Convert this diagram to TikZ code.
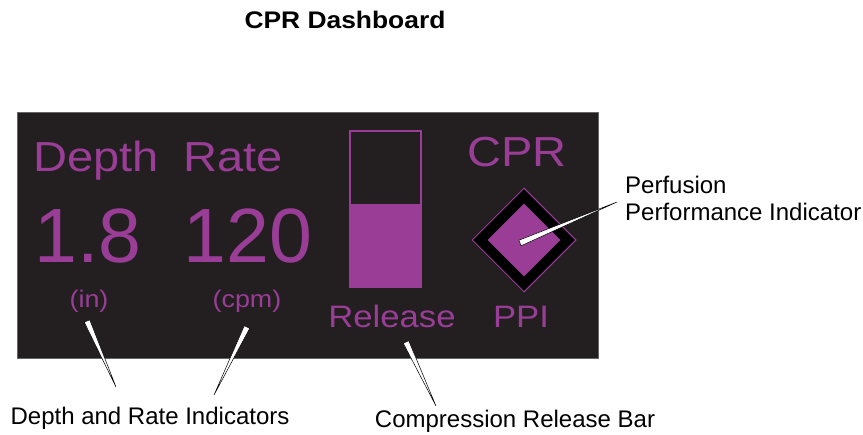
\documentclass[tikz,border=0pt]{standalone}
\usepackage{fontspec}
\setmainfont{Liberation Sans}
\newfontfamily\panelfont[FakeStretch=1.12]{Liberation Sans}
\newfontfamily\titlefont[FakeStretch=1.1]{Liberation Sans}
\usetikzlibrary{calc,shapes.geometric}
\definecolor{panelbg}{HTML}{231F20}
\definecolor{cprpurple}{HTML}{993D97}

\begin{document}
\begin{tikzpicture}[x=1pt, y=-1pt,
  lbl/.style={text=cprpurple, inner sep=0pt, anchor=base},
  big/.style={lbl, font=\panelfont\fontsize{42}{42}\selectfont},
  num/.style={lbl, font=\fontsize{77}{77}\selectfont},
  small/.style={lbl, font=\panelfont\fontsize{31}{31}\selectfont},
  unit/.style={lbl, font=\panelfont\fontsize{24}{24}\selectfont},
  caption/.style={font=\fontsize{24}{27}\selectfont, inner sep=0pt, anchor=base},
  wedge/.style={fill=white, draw=black, line width=0.5pt, line join=miter}
]
\useasboundingbox (0,0) rectangle (863,435);

% Title
\node[font=\titlefont\bfseries\fontsize{24}{24}\selectfont, inner sep=0pt, anchor=base] (title) at (345,29) {CPR Dashboard};

% Draw dark panel
\node[draw=black!60, line width=0.6pt, fill=panelbg, minimum width=581, minimum height=246, inner sep=0pt] (panel) at (307.5,235) {};

% Depth and rate readouts
\node[big] (depth) at (96,172) {Depth};
\node[big] (rate) at (233,172) {Rate};
\node[num] (depthval) at (88,263) {1.8};
\node[num] (rateval) at (248,263) {120};
\node[unit] (inunit) at (89,308) {(in)};
\node[unit] (cpmunit) at (247,308) {(cpm)};

% Draw compression release bar
\node[draw=cprpurple, line width=1.6pt, minimum width=71, minimum height=156, inner sep=0pt] (bar) at (385.5,209) {};
\fill[cprpurple] (bar.south west) rectangle ($(bar.south east)+(0,-84)$);
\node[small] (release) at (392,328) {Release};

% Draw CPR performance indicator
\node[big] (cpr) at (517,167) {CPR};
\node[diamond, fill=black, draw=cprpurple, line width=1pt, minimum width=104, minimum height=104, inner sep=0pt] (ppiouter) at (524,240) {};
\node[diamond, fill=cprpurple, minimum width=73, minimum height=73, inner sep=0pt] (ppiinner) at (524,240) {};
\node[small] (ppi) at (521,328) {PPI};

% Captions
\node[caption, anchor=north west, align=left] (perf) at (625,175.5) {Perfusion\\Performance Indicator};
\node[caption] (drcap) at (150,425) {Depth and Rate Indicators};
\node[caption] (crcap) at (515,428) {Compression Release Bar};

% Callout ends
\coordinate (inA) at (87,321);   \coordinate (inB) at (116,387);
\coordinate (cpmA) at (247,327); \coordinate (cpmB) at (214,395);
\coordinate (relA) at (406,342); \coordinate (relB) at (436,406);
\coordinate (ppiA) at (520,243); \coordinate (ppiB) at (617,202);

% Draw callout wedges
\foreach \a/\b in {inA/inB, cpmA/cpmB, relA/relB, ppiA/ppiB}
  \draw[wedge] ($(\a)!3pt!90:(\b)$) -- (\b) -- ($(\a)!3pt!-90:(\b)$) -- cycle;

\end{tikzpicture}
\end{document}
